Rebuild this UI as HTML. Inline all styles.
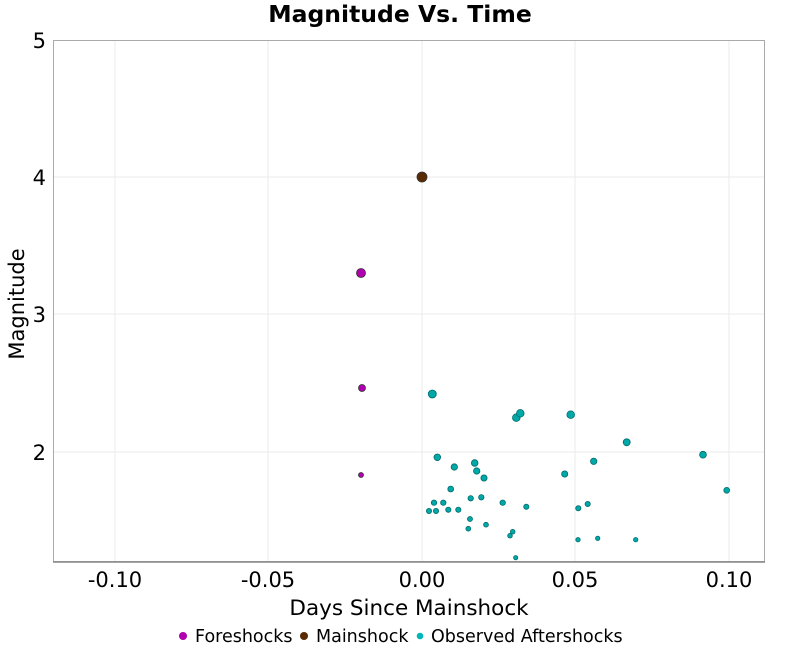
<!DOCTYPE html>
<html><head><meta charset="utf-8"><style>
body{margin:0;background:#fff;}
svg{display:block;font-family:"DejaVu Sans",sans-serif;}
</style></head><body>
<svg width="800" height="650" xmlns="http://www.w3.org/2000/svg">
<rect width="800" height="650" fill="#fff"/>
<g stroke="#ebebeb" stroke-width="1">
<line x1="115" y1="40" x2="115" y2="562"/><line x1="268" y1="40" x2="268" y2="562"/>
<line x1="422" y1="40" x2="422" y2="562"/><line x1="575" y1="40" x2="575" y2="562"/>
<line x1="729" y1="40" x2="729" y2="562"/>
<line x1="53" y1="177" x2="765" y2="177"/><line x1="53" y1="314" x2="765" y2="314"/>
<line x1="53" y1="452" x2="765" y2="452"/>
</g>
<rect x="53.5" y="40.5" width="711" height="521" fill="none" stroke="#aaa"/>
<line x1="53" y1="562" x2="765" y2="562" stroke="#888" stroke-width="1.5"/>
<g font-size="21" fill="#000" text-anchor="middle">
<text x="115" y="587">-0.10</text><text x="268" y="587">-0.05</text>
<text x="422" y="587">0.00</text><text x="575" y="587">0.05</text><text x="729" y="587">0.10</text>
</g>
<g font-size="21" fill="#000" text-anchor="end">
<text x="46" y="48">5</text><text x="46" y="185">4</text><text x="46" y="322">3</text><text x="46" y="460">2</text>
</g>
<text x="400" y="22" font-size="23.5" font-weight="bold" text-anchor="middle">Magnitude Vs. Time</text>
<text x="409" y="615" font-size="21.5" text-anchor="middle">Days Since Mainshock</text>
<text x="24" y="304" font-size="21" text-anchor="middle" transform="rotate(-90 24 304)">Magnitude</text>
<g stroke="#333" stroke-width="0.8">
<circle cx="361" cy="273" r="4.5" fill="#b000b0"/>
<circle cx="362" cy="388" r="3.5" fill="#b000b0"/>
<circle cx="361" cy="475" r="2.5" fill="#b000b0"/>
<circle cx="422" cy="177" r="5" fill="#5a2a00"/>
</g>
<g stroke="#006a6a" stroke-width="0.8" fill="#00a8a8">
<circle cx="432.3" cy="394" r="4"/>
<circle cx="516.3" cy="417.7" r="3.8"/>
<circle cx="520.3" cy="413.3" r="3.8"/>
<circle cx="570.7" cy="414.7" r="3.8"/>
<circle cx="626.7" cy="442.3" r="3.5"/>
<circle cx="703" cy="454.7" r="3.4"/>
<circle cx="437.3" cy="457.3" r="3.3"/>
<circle cx="454.3" cy="467" r="3.2"/>
<circle cx="474.7" cy="463" r="3.3"/>
<circle cx="476.7" cy="471" r="3.2"/>
<circle cx="484" cy="478" r="3.1"/>
<circle cx="564.7" cy="474" r="3.1"/>
<circle cx="593.7" cy="461.3" r="3.2"/>
<circle cx="726.7" cy="490.3" r="2.9"/>
<circle cx="450.7" cy="489" r="2.9"/>
<circle cx="434" cy="502.7" r="2.7"/>
<circle cx="443.3" cy="502.7" r="2.7"/>
<circle cx="429" cy="511" r="2.6"/>
<circle cx="436" cy="511" r="2.6"/>
<circle cx="448.3" cy="509.7" r="2.6"/>
<circle cx="458.3" cy="509.7" r="2.6"/>
<circle cx="470.7" cy="498.3" r="2.7"/>
<circle cx="481.3" cy="497.3" r="2.7"/>
<circle cx="502.7" cy="502.7" r="2.7"/>
<circle cx="526.3" cy="506.7" r="2.6"/>
<circle cx="470" cy="519" r="2.5"/>
<circle cx="486" cy="524.7" r="2.4"/>
<circle cx="468.3" cy="528.7" r="2.4"/>
<circle cx="512.7" cy="531.7" r="2.3"/>
<circle cx="510" cy="535.7" r="2.3"/>
<circle cx="515.7" cy="557.7" r="2.1"/>
<circle cx="578.3" cy="508.3" r="2.6"/>
<circle cx="587.7" cy="504" r="2.6"/>
<circle cx="578" cy="539.7" r="2.2"/>
<circle cx="597.7" cy="538.3" r="2.2"/>
<circle cx="635.7" cy="539.7" r="2.2"/>
</g>
<circle cx="183" cy="636" r="4" fill="#b000b0"/>
<circle cx="304" cy="636" r="4" fill="#5a2a00"/>
<circle cx="420" cy="636" r="3.3" fill="#00b8b8"/>
<g font-size="17.5" fill="#000">
<text x="195" y="642">Foreshocks</text>
<text x="316" y="642">Mainshock</text>
<text x="431" y="642">Observed Aftershocks</text>
</g>
</svg>
</body></html>
